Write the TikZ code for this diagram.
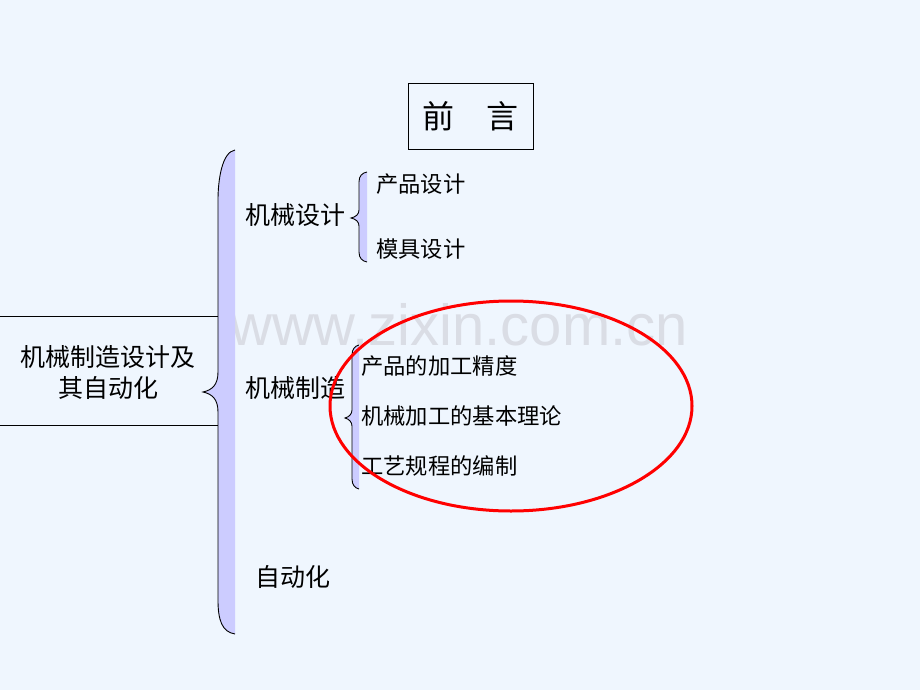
\documentclass[tikz,border=0pt]{standalone}
\usepackage{fontspec}
\newfontfamily\cjk{Noto Sans CJK SC}
\newfontfamily\wmfont{Liberation Sans}
\definecolor{bgc}{RGB}{239,246,254}
\definecolor{lav}{RGB}{204,204,255}
\definecolor{wm}{RGB}{218,221,229}
\definecolor{redc}{RGB}{255,0,0}
\tikzset{
  main/.style={inner sep=0pt, anchor=west, font=\cjk\fontsize{25}{29}\selectfont},
  sub/.style={inner sep=0pt, anchor=west, font=\cjk\fontsize{22.3}{26}\selectfont},
  bline/.style={draw=black, line width=0.9pt},
}
\begin{document}
\begin{tikzpicture}[x=1pt,y=-1pt]
\fill[bgc] (0,0) rectangle (920,690);
\useasboundingbox (0,0) rectangle (920,690);
% watermark
\node[inner sep=0pt, anchor=base west, text=wm, font=\wmfont\fontsize{58}{60}\selectfont] (wmk) at (230,345) {www.zixin.com.cn};
% title box
\node[draw=black, line width=0.8pt, minimum width=125pt, minimum height=66pt, inner sep=0pt, font=\cjk\fontsize{32}{36}\selectfont] (title) at (470.5,116) {前　言};
% left box lines
\draw[bline] (0,316) -- (218,316);
\draw[bline] (0,425) -- (218,425);
\node[inner sep=0pt, align=center, font=\cjk\fontsize{25}{31}\selectfont] (root) at (108,373) {机械制造设计及\\其自动化};
% big brace
\fill[lav] (235,150) .. controls (222,152) and (218,180) .. (218,200) -- (218,372)
  .. controls (218,385) and (212,390) .. (203,392) .. controls (212,394) and (218,399) .. (218,412)
  -- (218,600) .. controls (218,620) and (222,632) .. (235,634) -- cycle;
\draw[bline] (235,150) .. controls (222,152) and (218,180) .. (218,200) -- (218,372)
  .. controls (218,385) and (212,390) .. (203,392) .. controls (212,394) and (218,399) .. (218,412)
  -- (218,600) .. controls (218,620) and (222,632) .. (235,634);
% small brace 1
\fill[lav] (367,172) .. controls (362,173) and (359,176) .. (359,182) -- (359,210)
  .. controls (359,214) and (356,217) .. (351,218) .. controls (356,219) and (359,222) .. (359,226)
  -- (359,252) .. controls (359,258) and (362,261) .. (367,262) -- cycle;
\draw[bline] (367,172) .. controls (362,173) and (359,176) .. (359,182) -- (359,210)
  .. controls (359,214) and (356,217) .. (351,218) .. controls (356,219) and (359,222) .. (359,226)
  -- (359,252) .. controls (359,258) and (362,261) .. (367,262);
% small brace 2
\fill[lav] (359,345) .. controls (355,346) and (352,349) .. (352,355) -- (352,410)
  .. controls (352,414) and (349,417) .. (345,418) .. controls (349,419) and (352,422) .. (352,426)
  -- (352,479) .. controls (352,485) and (355,488) .. (359,489) -- cycle;
\draw[bline] (359,345) .. controls (355,346) and (352,349) .. (352,355) -- (352,410)
  .. controls (352,414) and (349,417) .. (345,418) .. controls (349,419) and (352,422) .. (352,426)
  -- (352,479) .. controls (352,485) and (355,488) .. (359,489);
% texts
\node[main] (jxsj) at (245,215) {机械设计};
\node[sub] (cpsj) at (376,184) {产品设计};
\node[sub] (mjsj) at (376,249) {模具设计};
\node[main] (jxzz) at (245,388) {机械制造};
\node[sub] (jgjd) at (361,366) {产品的加工精度};
\node[sub] (jbll) at (361,416) {机械加工的基本理论};
\node[sub] (gygc) at (361,466) {工艺规程的编制};
\node[main] (zdh) at (255,577) {自动化};
% red ellipse
\draw[redc, line width=3pt] (511,406) ellipse [x radius=181, y radius=105];
\end{tikzpicture}
\end{document}
